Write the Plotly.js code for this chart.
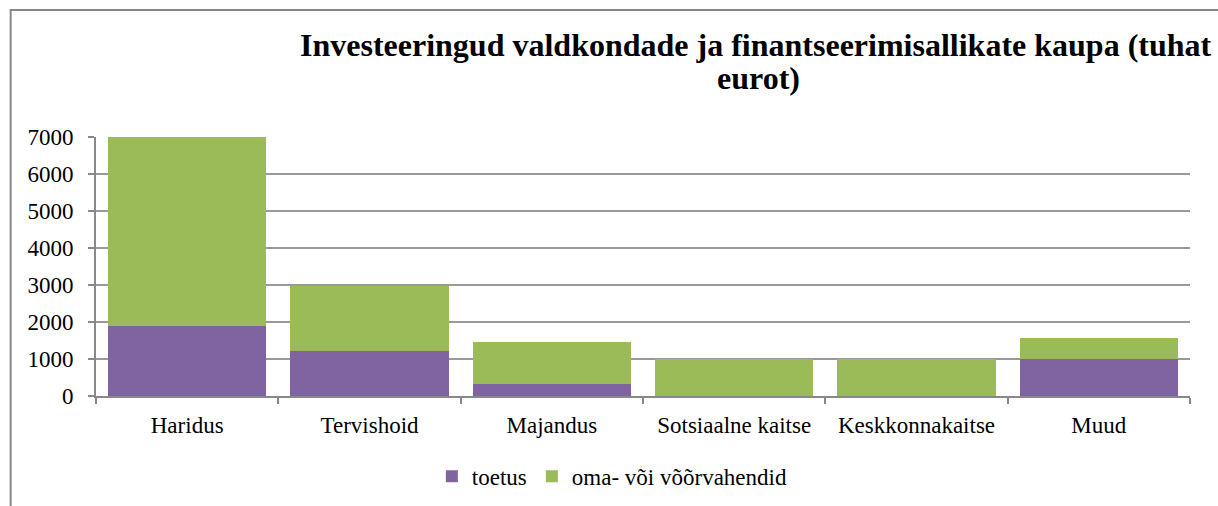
<!DOCTYPE html>
<html>
<head>
<meta charset="utf-8">
<script src="https://cdn.plot.ly/plotly-3.0.1.min.js"></script>
<style>html,body{margin:0;padding:0;background:#fff;}#chart{width:1218px;height:506px;}</style>
</head>
<body>
<div id="chart"></div>
<script>
const categories = ["Haridus", "Tervishoid", "Majandus", "Sotsiaalne kaitse", "Keskkonnakaitse", "Muud"];
const toetus = [1900, 1210, 320, 0, 0, 990];
const totals = [7000, 2980, 1465, 1000, 1000, 1560];
const omaVoiVoorvahendid = totals.map((t, i) => t - toetus[i]);
const seriesNames = ["toetus", "oma- või võõrvahendid"];
const titleLines = ["Investeeringud valdkondade ja finantseerimisallikate kaupa (tuhat", "eurot)"];

const font = "'Liberation Serif', 'DejaVu Serif', serif";

const traces = [
  {type: "bar", name: seriesNames[0], x: categories, y: toetus, marker: {color: "#8064A2"}},
  {type: "bar", name: seriesNames[1], x: categories, y: omaVoiVoorvahendid, marker: {color: "#9BBB59"}}
];

const layout = {
  width: 1218, height: 506,
  margin: {l: 96, r: 28, t: 137, b: 110, autoexpand: false},
  barmode: "stack",
  bargap: 0.133,
  paper_bgcolor: "#fff", plot_bgcolor: "#fff",
  font: {family: font, size: 23, color: "#000"},
  xaxis: {
    type: "category",
    showline: true, linecolor: "#888", linewidth: 2,
    ticks: "outside", tickson: "boundaries", ticklen: 6, tickcolor: "#888", tickwidth: 2,
    showgrid: false,
    ticklabelstandoff: 7,
    tickfont: {family: font, size: 23, color: "#000"}
  },
  yaxis: {
    range: [0, 7000], dtick: 1000,
    showline: true, linecolor: "#888", linewidth: 2,
    ticks: "outside", ticklen: 6, tickcolor: "#888", tickwidth: 2,
    showgrid: true, gridcolor: "#999", gridwidth: 2,
    zeroline: false,
    ticklabelstandoff: 10,
    tickfont: {family: font, size: 23, color: "#000"}
  },
  legend: {
    orientation: "h", x: 0.472, xanchor: "center", y: -0.31, yanchor: "middle",
    font: {family: font, size: 23, color: "#000"},
    traceorder: "normal"
  },
  showlegend: true,
  annotations: [
    {text: "<b>" + titleLines[0] + "</b>", xref: "paper", yref: "paper", x: 0.603, y: 1.355,
     xanchor: "center", yanchor: "middle", showarrow: false, font: {family: font, size: 32, color: "#000"}},
    {text: "<b>" + titleLines[1] + "</b>", xref: "paper", yref: "paper", x: 0.606, y: 1.228,
     xanchor: "center", yanchor: "middle", showarrow: false, font: {family: font, size: 32, color: "#000"}}
  ],
  shapes: [{
    type: "rect", xref: "paper", yref: "paper",
    x0: -0.078, x1: 1.3, y0: -0.6, y1: 1.49,
    line: {color: "#888", width: 2}, fillcolor: "rgba(0,0,0,0)", layer: "below"
  }]
};

Plotly.newPlot("chart", traces, layout, {displayModeBar: false, staticPlot: true});
</script>
</body>
</html>
